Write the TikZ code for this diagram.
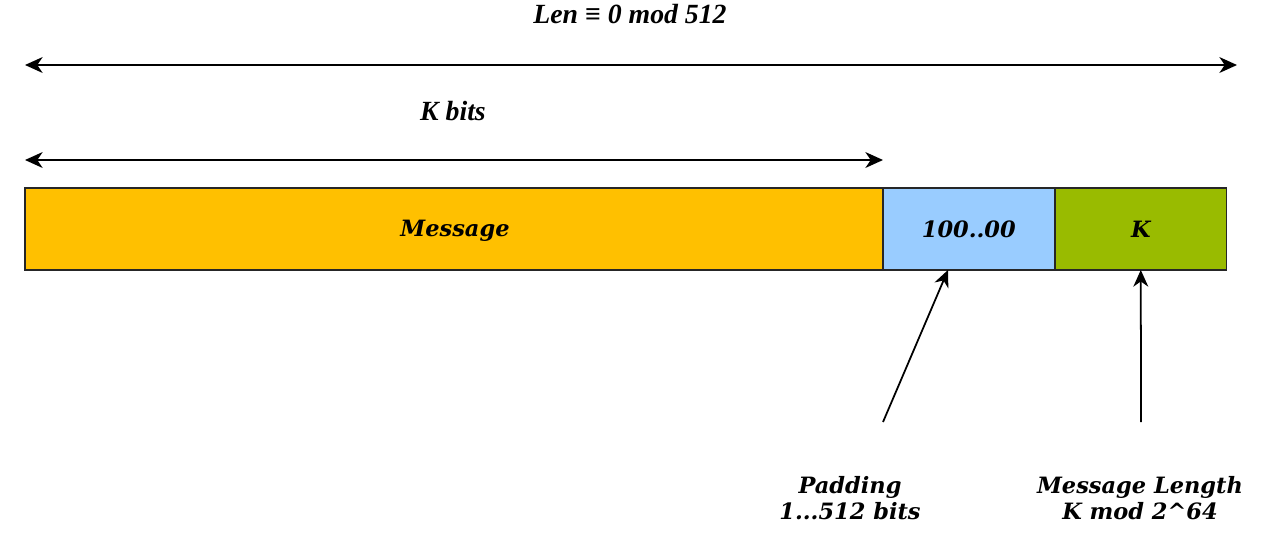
\documentclass[tikz,border=0pt]{standalone}
\usepackage{fontspec}
\setmainfont{Liberation Serif}
\newfontfamily\geofont{DejaVu Serif}
\usetikzlibrary{arrows.meta,positioning}
\definecolor{msgfill}{RGB}{255,192,0}
\definecolor{padfill}{RGB}{153,204,255}
\definecolor{lenfill}{RGB}{153,187,0}
\begin{document}
\begin{tikzpicture}[
    x=0.02cm, y=-0.02cm,
    block/.style={rectangle, draw=black!85, line width=0.8pt, minimum height=1.64cm, inner sep=0pt, outer sep=0pt, font=\geofont\bfseries\itshape\fontsize{12.8}{15}\selectfont},
    dimlabel/.style={font=\bfseries\itshape\fontsize{15.8}{18}\selectfont},
    notelabel/.style={align=center, font=\geofont\bfseries\itshape\fontsize{12.8}{14.7}\selectfont},
    dimarrow/.style={{Stealth[length=10pt,width=9pt,inset=3pt]}-{Stealth[length=10pt,width=9pt,inset=3pt]}, line width=1.1pt, black},
    pointer/.style={-{Stealth[length=9.5pt,width=8.5pt,inset=3pt]}, line width=1pt, black}
]
\useasboundingbox (0,0) rectangle (1268,535);
\node[block, fill=msgfill, minimum width=17.16cm, anchor=north west] (msg) at (25,188) {};
\node[block, fill=padfill, minimum width=3.44cm, right=0pt of msg] (pad) {100..00};
\node[block, fill=lenfill, minimum width=3.44cm, right=0pt of pad] (len) {K};
\node[font=\geofont\bfseries\itshape\fontsize{12.8}{15}\selectfont] (msgtext) at (455,231) {Message};

\node[dimlabel] (total) at (630,14) {Len ≡ 0 mod 512};
\node[dimlabel] (kbits) at (453,111) {K bits};
\coordinate (totalL) at (25,65);
\coordinate (totalR) at (1237,65);
\coordinate (kbitsL) at (25,160);
\coordinate (kbitsR) at (883,160);
\draw[dimarrow] (totalL) -- (totalR);
\draw[dimarrow] (kbitsL) -- (kbitsR);

\node[notelabel] (padnote) at (850,498) {Padding\\1...512 bits};
\node[notelabel] (lennote) at (1140,498) {Message Length\\K mod 2\^{}64};
\coordinate (padtail) at (883,422);
\coordinate (lentail) at (1141,422);
\draw[pointer] (padtail) -- (pad.south -| 948,0);
\draw[pointer] (lentail) -- (len.south);
\end{tikzpicture}
\end{document}
